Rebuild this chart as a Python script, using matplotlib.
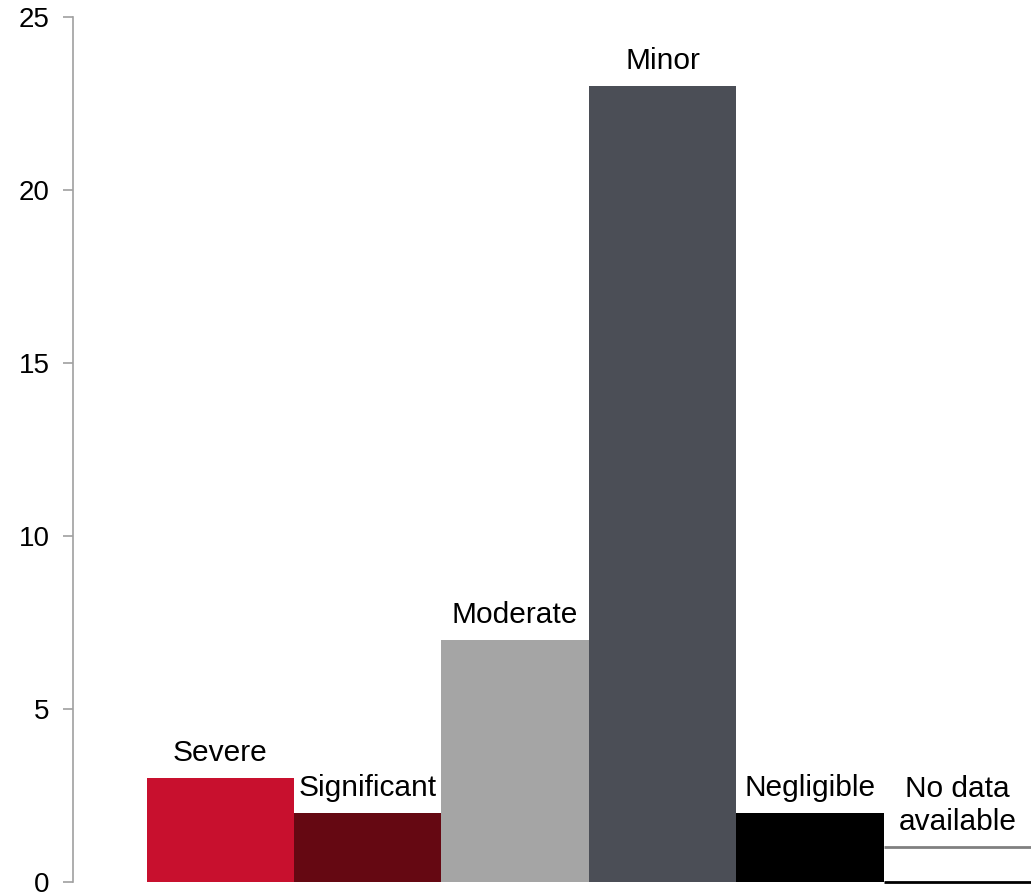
import matplotlib
matplotlib.use("Agg")
import matplotlib.pyplot as plt

categories = ["Severe", "Significant", "Moderate", "Minor", "Negligible", "No data\navailable"]
counts = [3, 2, 7, 23, 2, 1]
colors = ["#C8102E", "#650812", "#A5A5A5", "#4B4E56", "#000000", "#FFFFFF"]
yticks = [0, 5, 10, 15, 20, 25]

plt.rcParams["font.family"] = ["Liberation Sans", "DejaVu Sans"]

fig = plt.figure(figsize=(10.31, 8.92), dpi=100)
ax = fig.add_axes([73 / 1031, 10 / 892, 1 - 73 / 1031, 865 / 892])

x = list(range(len(categories)))
bars = ax.bar(x, counts, width=1.0, color=colors, linewidth=0)

# the white bar needs its outline drawn by hand
last = bars[-1]
x0, x1 = last.get_x(), last.get_x() + last.get_width()
ax.hlines(counts[-1], x0, x1, colors="#808080", linewidth=2)
ax.hlines(0, x0, x1, colors="#000000", linewidth=2, clip_on=False)

for xi, val, label in zip(x, counts, categories):
    ax.annotate(label, (xi, val), xytext=(0, 8), textcoords="offset points",
                ha="center", va="bottom", fontsize=21.5, linespacing=1.22)

ax.set_xlim(-1.0, 5.5)
ax.set_ylim(0, 25)
ax.set_yticks(yticks)
ax.set_xticks([])
ax.tick_params(axis="y", length=7, width=1.2, color="#A0A0A0", labelsize=20, pad=10)

for side in ["top", "right", "bottom"]:
    ax.spines[side].set_visible(False)
ax.spines["left"].set_color("#A0A0A0")
ax.spines["left"].set_linewidth(1.2)

fig.savefig("out.png", dpi=100)
